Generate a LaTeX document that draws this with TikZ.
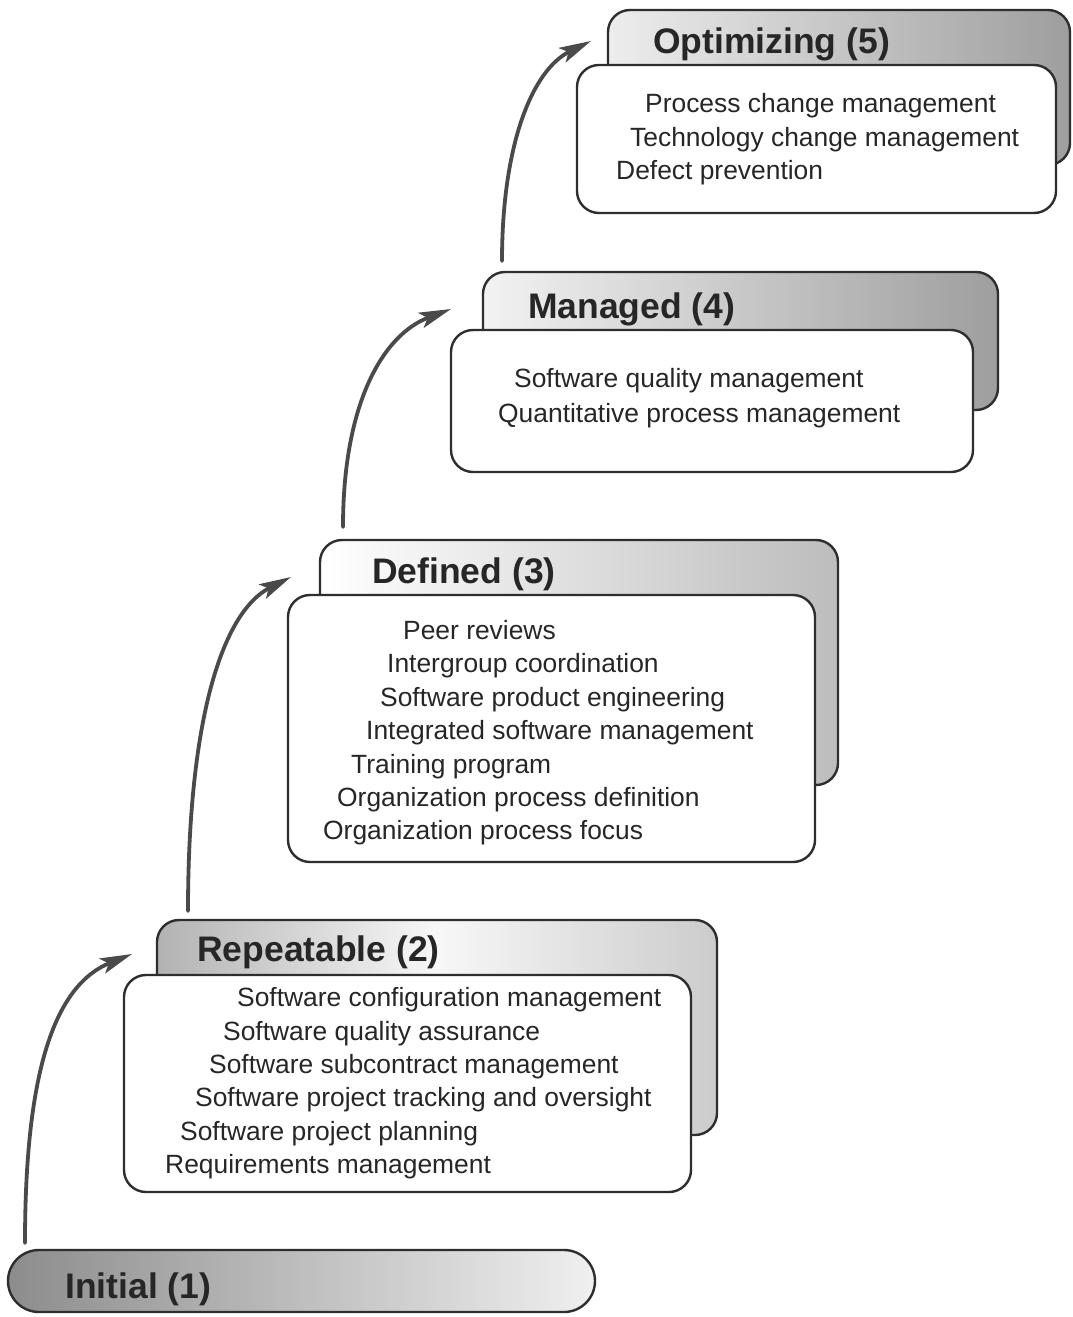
\documentclass[tikz,border=0pt]{standalone}
\usepackage{fontspec}
\setmainfont{Liberation Sans}
\usetikzlibrary{arrows.meta}
\definecolor{ink}{HTML}{262626}
\definecolor{edge}{HTML}{2E2E2E}
\definecolor{arrowgray}{HTML}{4A4A4A}
\begin{document}
\begin{tikzpicture}[x=1pt,y=-1pt,
  panel/.style={draw=edge,line width=2.4pt,rounded corners=22pt},
  frontbox/.style={draw=edge,line width=2.4pt,rounded corners=22pt,fill=white},
  item/.style={anchor=base west,inner sep=0pt,text=ink,font=\fontsize{26.4}{30}\selectfont},
  header/.style={anchor=base west,inner sep=0pt,text=ink,font=\fontsize{35.5}{40}\selectfont\bfseries},
  stagearrow/.style={draw=arrowgray,line width=3.8pt,line cap=round,
    -{Stealth[length=32pt,width=16pt,inset=7pt]}}]
\useasboundingbox (0,0) rectangle (1073,1317);
\fill[white] (0,0) rectangle (1073,1317);

% ---------- Initial (1) ----------
\shade[left color=black!45,right color=black!6] (8,1250) [rounded corners=31pt] rectangle (595,1312);
\draw[panel,rounded corners=31pt] (8,1250) rectangle (595,1312);
\node[header] (initial) at (65,1298) {Initial (1)};

% ---------- Repeatable (2) ----------
\shade[left color=black!30,right color=black!20,middle color=black!3,rounded corners=22pt] (157,920) rectangle (717,1135);
\draw[panel] (157,920) rectangle (717,1135);
\node[header] (repeatable) at (197,961) {Repeatable (2)};
\draw[frontbox] (124,975) rectangle (691,1192);
\node[item] (r1) at (237,1006) {Software configuration management};
\node[item] (r2) at (223,1040) {Software quality assurance};
\node[item] (r3) at (209,1073) {Software subcontract management};
\node[item] (r4) at (195,1106) {Software project tracking and oversight};
\node[item] (r5) at (180,1140) {Software project planning};
\node[item] (r6) at (165,1173) {Requirements management};

% ---------- Defined (3) ----------
\shade[left color=white,right color=black!26,rounded corners=22pt] (320,540) rectangle (838,785);
\draw[panel] (320,540) rectangle (838,785);
\node[header] (defined) at (372,583) {Defined (3)};
\draw[frontbox] (288,595) rectangle (815,862);
\node[item] (d1) at (403,639) {Peer reviews};
\node[item] (d2) at (387,672) {Intergroup coordination};
\node[item] (d3) at (380,706) {Software product engineering};
\node[item] (d4) at (366,739) {Integrated software management};
\node[item] (d5) at (351,773) {Training program};
\node[item] (d6) at (337,806) {Organization process definition};
\node[item] (d7) at (323,839) {Organization process focus};

% ---------- Managed (4) ----------
\shade[left color=black!5,right color=black!38,rounded corners=22pt] (483,272) rectangle (998,410);
\draw[panel] (483,272) rectangle (998,410);
\node[header] (managed) at (528,318) {Managed (4)};
\draw[frontbox] (451,330) rectangle (973,472);
\node[item] (m1) at (514,387) {Software quality management};
\node[item] (m2) at (498,422) {Quantitative process management};

% ---------- Optimizing (5) ----------
\shade[left color=black!7,right color=black!38,rounded corners=22pt] (608,10) rectangle (1070,165);
\draw[panel] (608,10) rectangle (1070,165);
\node[header] (optimizing) at (653,53) {Optimizing (5)};
\draw[frontbox] (577,65) rectangle (1056,213);
\node[item] (o1) at (645,112) {Process change management};
\node[item] (o2) at (630,146) {Technology change management};
\node[item] (o3) at (616,179) {Defect prevention};

% ---------- arrows between levels ----------
\coordinate (s1) at (25,1243);  \coordinate (e1) at (132,954);
\coordinate (s2) at (188,911);  \coordinate (e2) at (291,577);
\coordinate (s3) at (343,527);  \coordinate (e3) at (451,309);
\coordinate (s4) at (502,261);  \coordinate (e4) at (591,41);
\draw[stagearrow] (s1) .. controls (25,1070) and (55,985) .. (e1);
\draw[stagearrow] (s2) .. controls (188,720) and (222,612) .. (e2);
\draw[stagearrow] (s3) .. controls (343,405) and (382,335) .. (e3);
\draw[stagearrow] (s4) .. controls (502,145) and (532,70) .. (e4);
\end{tikzpicture}
\end{document}
